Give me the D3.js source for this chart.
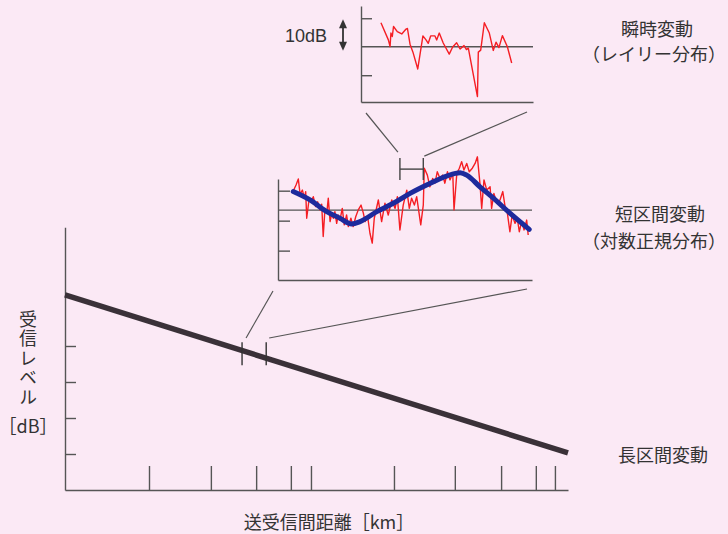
<!DOCTYPE html>
<html>
<head>
<meta charset="utf-8">
<script src="https://cdn.jsdelivr.net/npm/d3@7"></script>
<style>
  html, body { margin: 0; padding: 0; background: #fbe9f5; }
  svg { display: block; }
  text { font-family: "Noto Sans CJK JP", "Noto Sans", sans-serif; fill: #333; }
</style>
</head>
<body>
<svg id="chart" width="728" height="534"></svg>
<script>
// ---- long-term (path loss) ----
const distTicks = [16.7, 29.0, 38.0, 44.9, 48.9, 65.4, 77.5, 86.7, 93.6, 97.4];
const levelTicks = [40, 30, 20, 10];
const longDist = [0, 100];
const longLevel = [54.2, 10.3];
const sectionDist = [35.2, 40.0];

// ---- short-term (log-normal) ----
const shortPos = [6.0, 7.1, 8.0, 8.7, 9.6, 10.4, 10.9, 11.3, 12.2, 13.0, 13.9, 14.8, 15.6, 16.5, 17.2, 17.8, 18.5, 19.2, 19.8, 20.5,
  21.1, 21.8, 22.4, 23.1, 23.7, 24.4, 25.3, 26.1, 27.0, 27.7, 28.7, 29.6, 30.6, 31.6, 32.7, 33.6, 34.3, 35.3, 36.2, 37.1,
  37.9, 39.5, 40.8, 42.1, 43.4, 44.8, 46.1, 47.0, 48.0, 49.3, 50.7, 51.7, 52.6, 53.7, 54.6, 56.2, 57.2, 57.6, 58.8, 59.8,
  60.9, 61.8, 62.7, 63.8, 64.8, 65.7, 66.7, 67.7, 68.8, 69.3, 70.4, 71.4, 72.3, 73.2, 74.3, 75.3, 76.5, 77.6, 78.5, 79.5,
  80.2, 81.1, 82.2, 83.5, 84.1, 85.0, 86.1, 87.4, 88.5, 89.4, 90.3, 91.3, 92.2, 93.3, 94.2, 95.0, 95.9, 96.9, 97.9, 98.5];
const shortLevel = [9.9, 11.9, 13.9, 8.8, 10.2, 7.5, 9.7, 0.8, 6.9, 6.3, 8.0, 4.7, 6.3, 3.6, 5.5, -5.3, 4.1, 2.5, 7.5, -0.3,
  2.1, 0.8, 3.0, -0.9, 1.9, 0.2, 4.1, -1.4, 1.9, -2.0, 0.8, -2.0, 1.3, 3.6, 5.2, 2.5, -0.3, 1.3, -4.2, -7.5,
  0.8, 6.9, -0.3, 5.8, 1.9, 6.9, 4.1, 8.0, -3.1, 5.2, 10.2, 4.1, 7.5, 5.2, 8.0, -1.4, 5.2, 17.5, 15.2, 11.3,
  14.1, 12.5, 16.3, 14.1, 15.2, 12.5, 16.3, 13.6, 15.8, 3.6, 15.8, 17.5, 19.7, 16.9, 19.1, 16.3, 17.5, 19.1, 21.3, 12.5,
  4.1, 13.6, 10.2, 11.3, 4.1, 9.1, 5.8, 6.9, 9.7, 4.7, 2.5, -3.7, 1.9, -0.9, 0.8, -3.7, -0.3, -3.1, 0.2, -4.8];
const medianPos = [6.0, 12.6, 19.2, 24.4, 29.0, 32.3, 38.9, 45.4, 52.0, 58.5, 66.4, 71.7, 74.3, 79.5, 84.8, 91.3, 98.9];
const medianLevel = [9.7, 6.9, 3.0, 0.8, -1.1, -0.3, 3.0, 5.8, 9.1, 11.9, 14.9, 16.0, 15.2, 11.3, 7.5, 2.5, -2.9];
const shortTicks = [10, 0, -10];
const shortRef = 3.5;
const windowPos = [48.0, 57.2];

// ---- instantaneous (Rayleigh) ----
const instPos = [11.6, 15.9, 16.9, 17.4, 18.2, 18.9, 21.1, 23.7, 26.2, 27.0, 28.5, 30.2, 33.0, 36.0, 37.8, 39.1, 40.5, 43.0, 44.0, 45.5,
  47.8, 51.3, 53.3, 55.6, 57.6, 59.9, 61.3, 62.4, 67.7, 68.2, 69.6, 71.7, 74.6, 76.9, 78.5, 80.2, 82.2, 85.1, 87.6];
const instLevel = [8.4, 2.4, 0.1, 4.8, 3.6, 7.1, 5.3, 4.5, 6.2, 6.4, 0.9, -1.9, -7.8, 3.8, 2.4, 1.2, 3.8, 3.8, 2.4, 4.8,
  1.3, -2.6, -0.1, 1.4, -0.8, 0.4, -1.0, -0.5, -17.5, -1.9, -1.2, 8.4, 4.8, -1.3, 1.6, -0.3, 3.9, 0, -5.7];
const instTicks = [10, -10];
const instRef = 0;
const scaleStep = [10, 0];

const labels = {
  inst: ["瞬時変動", "（レイリー分布）"],
  short: ["短区間変動", "（対数正規分布）"],
  long: "長区間変動",
  yTitle: "受信レベル",
  yUnit: "［dB］",
  xTitle: "送受信間距離［km］"
};

const svg = d3.select("#chart");
const AXIS = "#555";
const RED = "#f51e24";
const BLUE = "#1d2a9c";

// ---------- long-term panel ----------
const x = d3.scaleLinear([0, 100], [65, 568]);
const y = d3.scaleLinear([0, 73], [490, 227.2]);

const gx = svg.append("g").attr("transform", `translate(0,${y(0)})`)
  .call(d3.axisTop(x).tickValues(distTicks).tickSizeInner(24).tickSizeOuter(0).tickFormat(""));
const gy = svg.append("g").attr("transform", `translate(${x(0)},0)`)
  .call(d3.axisRight(y).tickValues(levelTicks).tickSizeInner(11).tickSizeOuter(0).tickFormat(""));
[gx, gy].forEach(g => {
  g.selectAll("path,line").attr("stroke", AXIS).attr("stroke-width", 1.4);
});

const longData = longDist.map((d, i) => [d, longLevel[i]]);
svg.append("path")
  .attr("d", d3.line().x(d => x(d[0])).y(d => y(d[1]))(longData))
  .attr("fill", "none").attr("stroke", "#3a3138").attr("stroke-width", 5.5);

// section markers on the long-term line
const longAt = d3.scaleLinear(longDist, longLevel);
const bandMid = d3.mean(sectionDist, d => y(longAt(d)));
svg.selectAll(".sec").data(sectionDist).join("line")
  .attr("x1", d => x(d)).attr("x2", d => x(d))
  .attr("y1", bandMid - 12).attr("y2", bandMid + 11)
  .attr("stroke", "#333").attr("stroke-width", 1.4);

// ---------- short-term panel ----------
const sx = d3.scaleLinear([0, 100], [278, 532]);
const sy = d3.scaleLinear([-19.8, 13.9], [280, 179]);

const sgx = svg.append("g").attr("transform", `translate(0,${sy(-19.8)})`)
  .call(d3.axisBottom(sx).tickValues([]).tickSizeOuter(0));
const sgy = svg.append("g").attr("transform", `translate(${sx(0)},0)`)
  .call(d3.axisRight(sy).tickValues(shortTicks).tickSizeInner(12).tickSizeOuter(0).tickFormat(""));
[sgx, sgy].forEach(g => g.selectAll("path,line").attr("stroke", AXIS).attr("stroke-width", 1.4));
svg.append("line")
  .attr("x1", sx(0)).attr("x2", sx(100)).attr("y1", sy(shortRef)).attr("y2", sy(shortRef))
  .attr("stroke", AXIS).attr("stroke-width", 1.4);

const shortData = shortPos.map((p, i) => [p, shortLevel[i]]);
svg.append("path")
  .attr("d", d3.line().x(d => sx(d[0])).y(d => sy(d[1]))(shortData))
  .attr("fill", "none").attr("stroke", RED).attr("stroke-width", 1.4).attr("stroke-linejoin", "round");

const medianData = medianPos.map((p, i) => [p, medianLevel[i]]);
svg.append("path")
  .attr("d", d3.line().curve(d3.curveMonotoneX).x(d => sx(d[0])).y(d => sy(d[1]))(medianData))
  .attr("fill", "none").attr("stroke", BLUE).attr("stroke-width", 5).attr("stroke-linecap", "round");

// window bracket |—|
const winY = sy(17.2);
svg.append("line").attr("x1", sx(windowPos[0])).attr("x2", sx(windowPos[1]))
  .attr("y1", winY).attr("y2", winY).attr("stroke", "#444").attr("stroke-width", 1.4);
svg.selectAll(".win").data(windowPos).join("line")
  .attr("x1", d => sx(d)).attr("x2", d => sx(d))
  .attr("y1", winY - 11).attr("y2", winY + 11)
  .attr("stroke", "#444").attr("stroke-width", 1.4);

// ---------- instantaneous panel ----------
const ix = d3.scaleLinear([0, 100], [361, 533]);
const iy = d3.scaleLinear([-19.4, 14.3], [102, 6]);

const igx = svg.append("g").attr("transform", `translate(0,${iy(-19.4)})`)
  .call(d3.axisBottom(ix).tickValues([]).tickSizeOuter(0));
const igy = svg.append("g").attr("transform", `translate(${ix(0)},0)`)
  .call(d3.axisRight(iy).tickValues(instTicks).tickSizeInner(11).tickSizeOuter(0).tickFormat(""));
[igx, igy].forEach(g => g.selectAll("path,line").attr("stroke", AXIS).attr("stroke-width", 1.4));
svg.append("line")
  .attr("x1", ix(0)).attr("x2", ix(100)).attr("y1", iy(instRef)).attr("y2", iy(instRef))
  .attr("stroke", AXIS).attr("stroke-width", 1.4);

const instData = instPos.map((p, i) => [p, instLevel[i]]);
svg.append("path")
  .attr("d", d3.line().x(d => ix(d[0])).y(d => iy(d[1]))(instData))
  .attr("fill", "none").attr("stroke", RED).attr("stroke-width", 1.4).attr("stroke-linejoin", "round");

// 10 dB scale arrow
const ax = 343;
const aTop = iy(scaleStep[0]) + 1, aBot = iy(scaleStep[1]) + 4;
svg.append("line").attr("x1", ax).attr("x2", ax).attr("y1", aTop + 5).attr("y2", aBot - 5)
  .attr("stroke", "#333").attr("stroke-width", 1.8);
svg.append("path").attr("d", `M${ax},${aTop} l-4,9 h8 Z`).attr("fill", "#333");
svg.append("path").attr("d", `M${ax},${aBot} l-4,-9 h8 Z`).attr("fill", "#333");
svg.append("text").attr("x", 327).attr("y", 36).attr("text-anchor", "end")
  .attr("dominant-baseline", "central")
  .style("font-family", "'Liberation Sans', Arial, sans-serif").style("font-size", "18px")
  .text(`${scaleStep[0] - scaleStep[1]}dB`);

// ---------- zoom connectors ----------
const conn = [
  [x(sectionDist[0]) + 4, 338, sx(0) - 5, sy(-19.8) + 11],
  [x(sectionDist[1]) + 3, 338, sx(100) - 5, sy(-19.8) + 9],
  [sx(windowPos[0]) - 2, winY - 17, ix(0) + 5, iy(-19.4) + 11],
  [sx(windowPos[1]) + 1, winY - 13, ix(100) - 6, iy(-19.4) + 10]
];
svg.selectAll(".conn").data(conn).join("line")
  .attr("x1", d => d[0]).attr("y1", d => d[1]).attr("x2", d => d[2]).attr("y2", d => d[3])
  .attr("stroke", "#555").attr("stroke-width", 1.2);

// ---------- text ----------
const fs = "18px";
function centered(t, cx, cy) {
  return svg.append("text").attr("x", cx).attr("y", cy).attr("text-anchor", "middle")
    .attr("dominant-baseline", "central").style("font-size", fs).text(t);
}
centered(labels.inst[0], 657, 28);
centered(labels.inst[1], 654, 52.5);
centered(labels.short[0], 660, 213);
centered(labels.short[1], 654, 240);
centered(labels.long, 663, 454);
// vertical axis title, set upright top-to-bottom
svg.append("text").attr("x", 28).attr("y", 310)
  .style("writing-mode", "vertical-rl").style("text-orientation", "upright")
  .style("font-size", fs).style("letter-spacing", "1.5px")
  .text(labels.yTitle);
centered(labels.yUnit, 28, 425);
centered(labels.xTitle, 329, 521);
</script>
</body>
</html>
